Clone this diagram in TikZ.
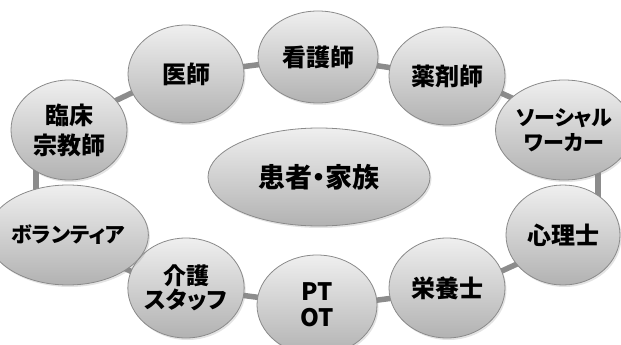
\documentclass[tikz,border=0pt]{standalone}
\usepackage{fontspec}
\newfontfamily\jp{Noto Sans CJK JP}[BoldFont={Noto Sans CJK JP Black}, RawFeature=+palt]
\usetikzlibrary{shapes.geometric,shadows}
\definecolor{ltop}{HTML}{EFEFEF}
\definecolor{lbot}{HTML}{B2B2B2}
\definecolor{rim}{HTML}{8A8A8A}
\definecolor{conncol}{HTML}{8C8C8C}
\pgfdeclarelayer{bg}
\pgfsetlayers{bg,main}
\tikzset{
  blob/.style={ellipse, draw=rim, line width=0.8pt, top color=ltop, bottom color=lbot,
    inner sep=0pt, align=center, text=black,
    drop shadow={shadow xshift=1.5pt, shadow yshift=-2pt, opacity=0.22},
    minimum width=#1},
  blob/.default=116pt,
  fs/.style 2 args={font=\jp\bfseries\fontsize{#1}{#2}\selectfont},
  conn/.style={draw=conncol, line width=5.5pt},
}
\begin{document}
\begin{tikzpicture}[x=1pt,y=-1pt]
\useasboundingbox (0,0) rectangle (621,345);
\node[blob=222pt, minimum height=98pt, fs={27}{30}] (center) at (319,177) {患者・家族};
\node[blob, minimum height=98pt, fs={24}{28}] (ishi) at (186,74) {医師};
\node[blob=120pt, minimum height=92pt, fs={24}{28}] (kango) at (318,57) {看護師};
\node[blob, minimum height=98pt, fs={24}{28}] (yaku) at (447,76) {薬剤師};
\node[blob=114pt, minimum height=100pt, fs={21}{25}] (social) at (564,130) {ソーシャル\\ワーカー};
\node[blob=114pt, minimum height=100pt, fs={24}{28}] (shinri) at (563,235) {心理士};
\node[blob, minimum height=100pt, fs={24}{28}] (eiyou) at (447,288) {栄養士};
\node[blob=120pt, minimum height=100pt, fs={24}{26}] (ptot) at (317,305) {PT\\OT};
\node[blob, minimum height=100pt, fs={23}{24}] (kaigo) at (186,288) {介護\\スタッフ};
\node[blob=118pt, minimum height=100pt, fs={21}{22}] (vol) at (68,235) {ボランティア};
\node[blob, minimum height=100pt, fs={24}{30}] (rinsho) at (69,130) {臨床\\宗教師};
\begin{pgfonlayer}{bg}
\draw[conn] ([yshift=7pt]rinsho.center) -- ([yshift=7pt]ishi.center);
\draw[conn] (ishi.center) -- (kango.center);
\draw[conn] (kango.center) -- (yaku.center);
\draw[conn] ([yshift=8pt]yaku.center) -- ([yshift=8pt]social.center);
\draw[conn] ([xshift=34pt]social.center) -- ([xshift=35pt]shinri.center);
\draw[conn] ([yshift=-8pt]shinri.center) -- ([yshift=-8pt]eiyou.center);
\draw[conn] ([yshift=-3pt]eiyou.center) -- ([yshift=-3pt]ptot.center);
\draw[conn] (ptot.center) -- (kaigo.center);
\draw[conn] ([yshift=-8pt]kaigo.center) -- ([yshift=-8pt]vol.center);
\draw[conn] ([xshift=-32pt]vol.center) -- ([xshift=-33pt]rinsho.center);
\end{pgfonlayer}
\end{tikzpicture}
\end{document}
